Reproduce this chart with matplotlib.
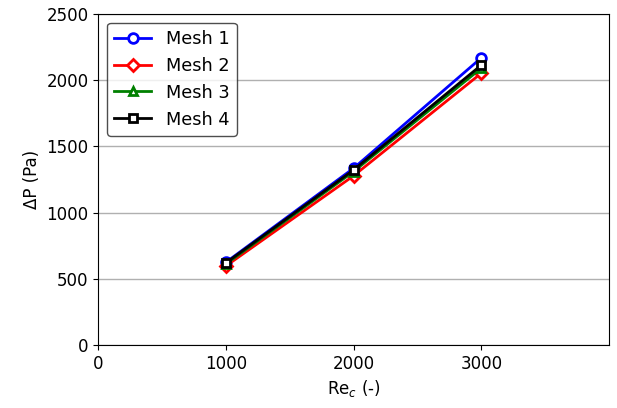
import matplotlib
matplotlib.use('Agg')
import matplotlib.pyplot as plt

re_c = [1000, 2000, 3000]
mesh1 = [625, 1335, 2168]
mesh2 = [597, 1278, 2052]
mesh3 = [612, 1310, 2090]
mesh4 = [620, 1322, 2113]

labels = ['Mesh 1', 'Mesh 2', 'Mesh 3', 'Mesh 4']
colors = ['blue', 'red', 'green', 'black']
markers = ['o', 'D', '^', 's']
sizes = [7, 6, 6, 6]

plt.rcParams['font.size'] = 12

fig = plt.figure(figsize=(6.17, 4.08), dpi=100)
ax = fig.add_axes([0.159, 0.154, 0.828, 0.812])

for vals, lab, c, m, s in zip([mesh1, mesh2, mesh3, mesh4], labels, colors, markers, sizes):
    ax.plot(re_c, vals, color=c, marker=m, markersize=s, markerfacecolor='white',
            markeredgewidth=2, linewidth=2, label=lab)

ax.set_xlim(0, 4000)
ax.set_ylim(0, 2500)
ax.set_xticks([0, 1000, 2000, 3000])
ax.set_yticks([0, 500, 1000, 1500, 2000, 2500])
ax.yaxis.grid(True, color='#b0b0b0', linewidth=1)
ax.set_axisbelow(True)

ax.set_xlabel('Re$_c$ (-)')
ax.set_ylabel('ΔP (Pa)')

leg = ax.legend(loc='upper left', fontsize=12.8, edgecolor='#222222', fancybox=True,
                handlelength=2.1)
leg.get_frame().set_linewidth(1.0)

fig.savefig('out.png', dpi=100)
